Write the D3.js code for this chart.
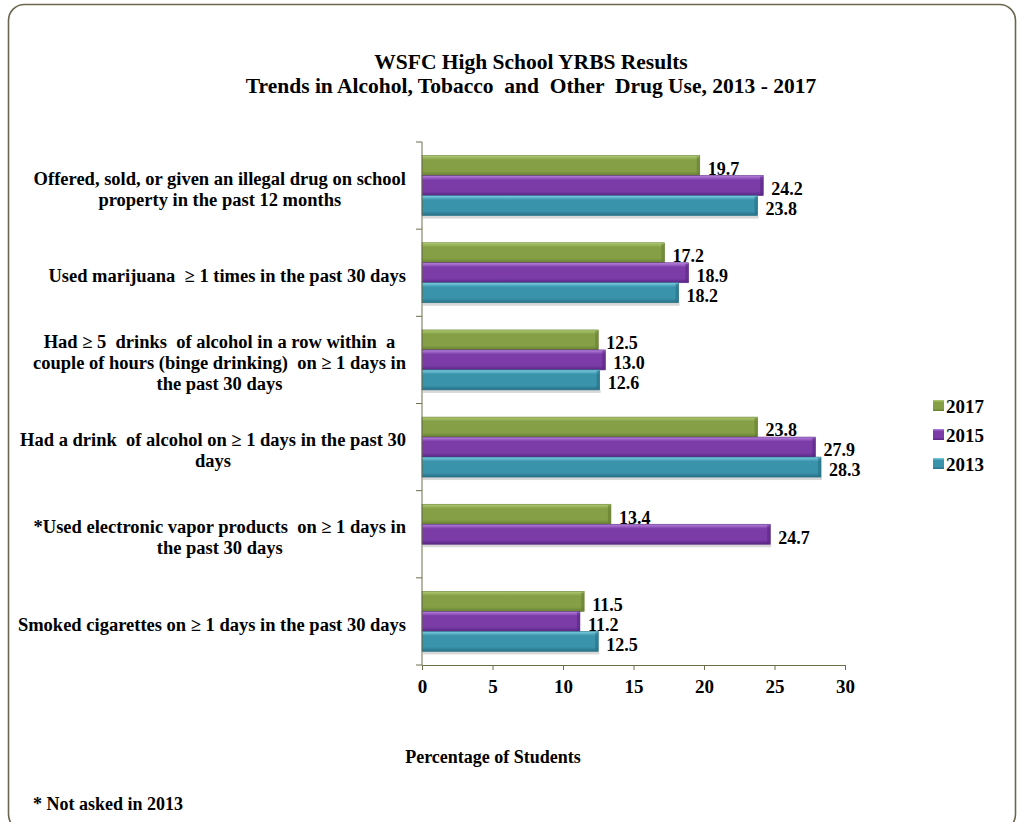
<html>
  <head>
    <script src='https://d3js.org/d3.v7.min.js'></script>
    <style>
      body { margin: 0; background: #fff; }
      text { font-family: 'Liberation Serif', 'Times New Roman', serif; font-weight: bold; fill: #000; white-space: pre; }
    </style>
  </head>
  <body>
    <svg width=1019 height=822></svg>
    <script>
      // categories, top to bottom (already wrapped like the original)
      const CATEGORIES = [
        ['Offered, sold, or given an illegal drug on school', 'property in the past 12 months'],
        ['Used marijuana  \u2265 1 times in the past 30 days'],
        ['Had \u2265 5  drinks  of alcohol in a row within  a', 'couple of hours (binge drinking)  on \u2265 1 days in', 'the past 30 days'],
        ['Had a drink  of alcohol on \u2265 1 days in the past 30', 'days'],
        ['*Used electronic vapor products  on \u2265 1 days in', 'the past 30 days'],
        ['Smoked cigarettes on \u2265 1 days in the past 30 days']
      ];
      const YEARS = ['2017', '2015', '2013'];
      const V2017 = [19.7, 17.2, 12.5, 23.8, 13.4, 11.5];
      const V2015 = [24.2, 18.9, 13.0, 27.9, 24.7, 11.2];
      const V2013 = [23.8, 18.2, 12.6, 28.3, null, 12.5];
      const X_TICKS = [0, 5, 10, 15, 20, 25, 30];

      const COLORS = {
        '2017': ['#b0cc74', '#849f45', '#667f32'],
        '2015': ['#b985e0', '#7b3ca8', '#582683'],
        '2013': ['#7fd0e4', '#3993ab', '#276f85']
      };

      const svg = d3.select('svg');
      const defs = svg.append('defs');
      YEARS.forEach(function(y) {
        const c = COLORS[y];
        const g = defs.append('linearGradient').attr('id', 'g' + y)
          .attr('x1', 0).attr('y1', 0).attr('x2', 0).attr('y2', 1);
        g.append('stop').attr('offset', '0%').attr('stop-color', c[0]);
        g.append('stop').attr('offset', '22%').attr('stop-color', c[1]);
        g.append('stop').attr('offset', '78%').attr('stop-color', c[1]);
        g.append('stop').attr('offset', '100%').attr('stop-color', c[2]);
      });

      // frame
      svg.append('rect').attr('x', 8.5).attr('y', 4.5).attr('width', 1007).attr('height', 826)
        .attr('rx', 16).attr('fill', 'none').attr('stroke', '#6b6650').attr('stroke-width', 1.6);

      // title
      svg.append('text').attr('x', 531).attr('y', 69).attr('text-anchor', 'middle')
        .style('font-size', '21.5px').text('WSFC High School YRBS Results');
      svg.append('text').attr('x', 531).attr('y', 93).attr('text-anchor', 'middle')
        .style('font-size', '21.5px').text('Trends in Alcohol, Tobacco  and  Other  Drug Use, 2013 - 2017');

      const x = d3.scaleLinear().domain([0, 30]).range([422, 845]);
      const y = d3.scaleBand().domain(d3.range(CATEGORIES.length)).range([142, 665]).padding(0);
      const yy = d3.scaleBand().domain(YEARS).range([0, y.bandwidth()]).paddingInner(0).paddingOuter(0.68);

      const series = { '2017': V2017, '2015': V2015, '2013': V2013 };
      const rows = [];
      CATEGORIES.forEach(function(c, i) {
        YEARS.forEach(function(yr) {
          if (series[yr][i] != null) rows.push({ i: i, year: yr, v: series[yr][i] });
        });
      });

      // bar shadows
      svg.append('g').selectAll('rect').data(rows.filter(function(d, k) {
          return k == rows.length - 1 || rows[k + 1].i != d.i;
        })).enter().append('rect')
        .attr('x', x(0) + 1).attr('y', function(d) { return y(d.i) + yy(d.year) + yy.bandwidth(); })
        .attr('width', function(d) { return x(d.v) - x(0); }).attr('height', 3)
        .attr('fill', '#d8d8d8');

      const bars = svg.append('g').selectAll('g').data(rows).enter().append('g');
      bars.append('rect')
        .attr('x', x(0))
        .attr('y', function(d) { return y(d.i) + yy(d.year); })
        .attr('width', function(d) { return x(d.v) - x(0); })
        .attr('height', yy.bandwidth())
        .attr('fill', function(d) { return 'url(#g' + d.year + ')'; })
        .attr('stroke', function(d) { return COLORS[d.year][2]; })
        .attr('stroke-width', 0.6);
      bars.append('rect')
        .attr('x', function(d) { return x(d.v) - 3; })
        .attr('y', function(d) { return y(d.i) + yy(d.year) + 1; })
        .attr('width', 3).attr('height', yy.bandwidth() - 2)
        .attr('fill', function(d) { return COLORS[d.year][2]; }).attr('opacity', 0.6);

      bars.append('text')
        .attr('x', function(d) { return x(d.v) + 8; })
        .attr('y', function(d) { return y(d.i) + yy(d.year) + yy.bandwidth() / 2 + 3; })
        .attr('dy', '0.35em').style('font-size', '18px')
        .text(function(d) { return d.v.toFixed(1); });

      // axes
      const axisColor = '#6e6e4a';
      const xAxis = svg.append('g').attr('transform', 'translate(0,665)')
        .call(d3.axisBottom(x).tickValues(X_TICKS).tickSize(5).tickPadding(10));
      xAxis.select('.domain').attr('stroke', axisColor);
      xAxis.selectAll('line').attr('stroke', axisColor);
      xAxis.selectAll('text').style('font-size', '19px').style('font-family', "'Liberation Serif', serif").style('font-weight', 'bold');

      const yAxisG = svg.append('g');
      yAxisG.append('line').attr('x1', 422).attr('x2', 422).attr('y1', 142).attr('y2', 665).attr('stroke', axisColor);
      yAxisG.selectAll('.tk').data(d3.range(CATEGORIES.length + 1)).enter().append('line')
        .attr('x1', 416).attr('x2', 422)
        .attr('y1', function(k) { return 142 + k * y.step(); })
        .attr('y2', function(k) { return 142 + k * y.step(); })
        .attr('stroke', axisColor);

      // category labels, centered in a box ending at x=406
      CATEGORIES.forEach(function(lines, i) {
        const g = svg.append('g');
        const lh = 21;
        const cy = y(i) + y.bandwidth() / 2 + 3;
        const t = lines.map(function(s, k) {
          return g.append('text').attr('y', cy + (k - (lines.length - 1) / 2) * lh)
            .attr('dy', '0.35em').attr('text-anchor', 'middle')
            .style('font-size', '18.5px').text(s);
        });
        const w = d3.max(t, function(n) { return n.node().getComputedTextLength(); });
        t.forEach(function(n) { n.attr('x', 406 - w / 2); });
      });

      // legend
      const lg = svg.append('g').selectAll('g').data(YEARS).enter().append('g')
        .attr('transform', function(d, k) { return 'translate(933,' + (400 + k * 29) + ')'; });
      lg.append('rect').attr('width', 11).attr('height', 11)
        .attr('fill', function(d) { return 'url(#g' + d + ')'; });
      lg.append('text').attr('x', 13).attr('y', 6).attr('dy', '0.35em')
        .style('font-size', '19px').text(function(d) { return d; });

      svg.append('text').attr('x', 493).attr('y', 763).attr('text-anchor', 'middle')
        .style('font-size', '18px').text('Percentage of Students');
      svg.append('text').attr('x', 33).attr('y', 810)
        .style('font-size', '18px').text('* Not asked in 2013');
    </script>
  </body>
</html>
